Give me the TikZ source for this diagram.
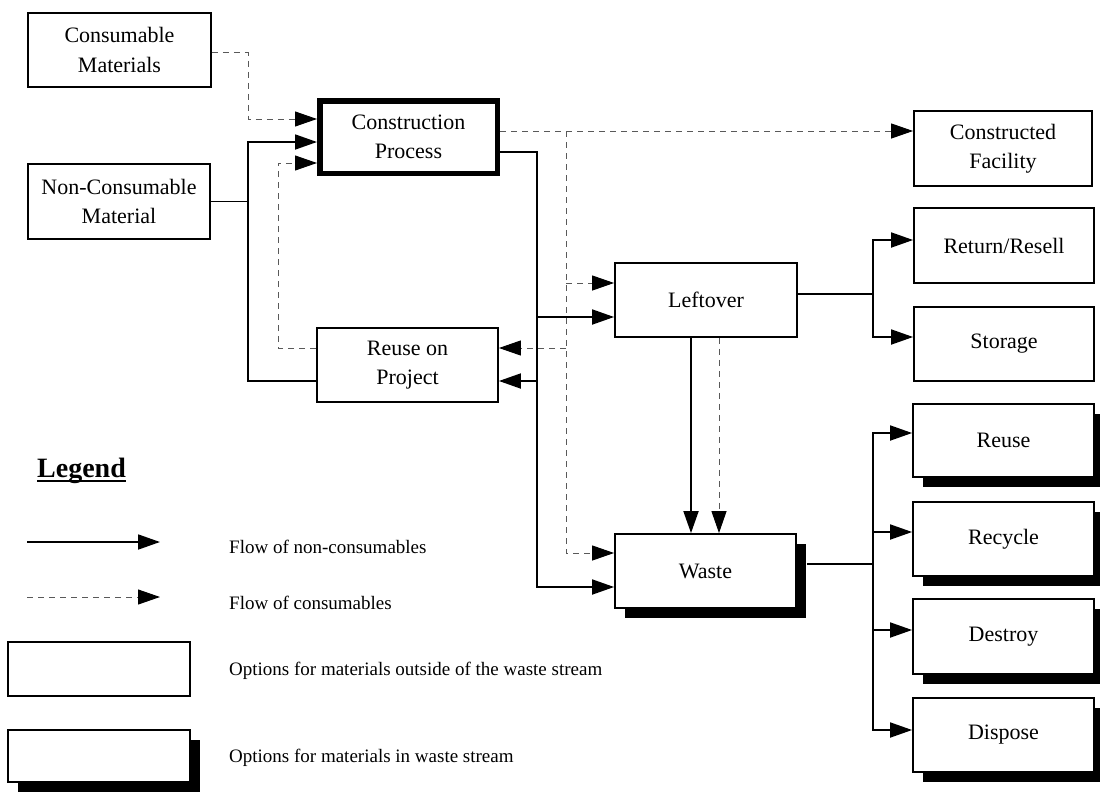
\documentclass[tikz,border=0pt]{standalone}
\usepackage{fontspec}
\setmainfont{Liberation Serif}
\usetikzlibrary{arrows.meta,shadows,calc}
\begin{document}
\begin{tikzpicture}[x=1pt,y=-1pt,
  box/.style={draw=black, line width=1.8pt, fill=white, inner sep=0pt, align=center,
              font=\fontsize{22}{29.5}\selectfont},
  thickbox/.style={box, line width=5.5pt},
  wbox/.style={box, general shadow={fill=black, shadow xshift=10pt, shadow yshift=-10pt}},
  line/.style={draw=black, line width=1.8pt},
  flow/.style={line, -{Triangle[length=22pt,width=15pt]}},
  dline/.style={draw=black!65, line width=1pt, dash pattern=on 6pt off 5pt},
  dflow/.style={dline, -{Triangle[length=22pt,width=15pt,color=black]}},
  legtext/.style={anchor=base west, inner sep=0pt, font=\fontsize{19}{22}\selectfont},
]
\useasboundingbox (0,0) rectangle (1100,792);

% ---------- boxes ----------
\node[box, minimum width=183, minimum height=74] (cons) at (119.5,50) {Consumable\\Materials};
\node[box, minimum width=182, minimum height=75] (noncons) at (119,201.5) {Non-Consumable\\Material};
\node[thickbox, minimum width=177.5, minimum height=72.5] (constr) at (408.5,137) {Construction\\Process};
\node[box, minimum width=178, minimum height=75] (facility) at (1003,148.5) {Constructed\\Facility};
\node[box, minimum width=180, minimum height=75] (ret) at (1004,245.5) {Return/Resell};
\node[box, minimum width=180, minimum height=74] (sto) at (1004,344) {Storage};
\node[box, minimum width=182, minimum height=74] (leftover) at (706,300) {Leftover};
\node[box, minimum width=181, minimum height=74] (reuseproj) at (407.5,365) {Reuse on\\Project};
\node[wbox, minimum width=181, minimum height=74] (waste) at (705.5,571) {Waste};
\node[wbox, minimum width=181, minimum height=73] (reuse) at (1003.5,440.5) {Reuse};
\node[wbox, minimum width=181, minimum height=74] (recycle) at (1003.5,539) {Recycle};
\node[wbox, minimum width=181, minimum height=75] (destroy) at (1003.5,636.5) {Destroy};
\node[wbox, minimum width=181, minimum height=74] (dispose) at (1003.5,735) {Dispose};

% ---------- ports ----------
\coordinate (ci1) at ([yshift=18pt]constr.west);
\coordinate (ci2) at ([yshift=-5pt]constr.west);
\coordinate (ci3) at ([yshift=-26pt]constr.west);
\coordinate (co1) at ([yshift=6pt]constr.east);
\coordinate (co2) at ([yshift=-15pt]constr.east);
\coordinate (fi1) at ([yshift=17.5pt]facility.west);
\coordinate (li1) at ([yshift=17pt]leftover.west);
\coordinate (li2) at ([yshift=-17pt]leftover.west);
\coordinate (rpe1) at ([yshift=17pt]reuseproj.east);
\coordinate (rpe2) at ([yshift=-16pt]reuseproj.east);
\coordinate (rpw1) at ([yshift=17pt]reuseproj.west);
\coordinate (rpw2) at ([yshift=-16pt]reuseproj.west);
\coordinate (wi1) at ([yshift=18pt]waste.west);
\coordinate (wi2) at ([yshift=-16pt]waste.west);
\coordinate (ls1) at ([xshift=-15pt]leftover.south);
\coordinate (ls2) at ([xshift=13pt]leftover.south);
\coordinate (lo) at ([yshift=6pt]leftover.east);
\coordinate (reti) at ([yshift=5.5pt]ret.west);
\coordinate (stoi) at ([yshift=7pt]sto.west);
\coordinate (wo) at ([xshift=10pt,yshift=7pt]waste.east);
\coordinate (reui) at ([yshift=7.5pt]reuse.west);
\coordinate (reci) at ([yshift=7pt]recycle.west);
\coordinate (desi) at ([yshift=6.5pt]destroy.west);
\coordinate (disi) at ([yshift=5pt]dispose.west);

% bus x positions
\coordinate (bA) at (248,0);
\coordinate (bB) at (278,0);
\coordinate (bC) at (537,0);
\coordinate (bD) at (566,0);
\coordinate (bE) at (873,0);

% ---------- connectors ----------
% into construction process
\draw[dflow] ([yshift=-3pt]cons.east) -| (bA |- ci1) -- (ci1);
\draw[line] (noncons.east) -- (noncons.east -| bA);
\draw[flow] (rpw2) -| (bA |- ci2) -- (ci2);
\draw[dflow] (rpw1) -| (bB |- ci3) -- (ci3);

% out of construction process (non-consumables)
\draw[flow] (co2) -| (bC |- wi2) -- (wi2);
\draw[flow] (bC |- li2) -- (li2);
\draw[flow] (bC |- rpe2) -- (rpe2);

% out of construction process (consumables)
\draw[dflow] (co1) -- (fi1);
\draw[dflow] (bD |- co1) |- (wi1);
\draw[dflow] (bD |- li1) -- (li1);
\draw[dflow] (bD |- rpe1) -- (rpe1);

% leftover to waste
\draw[flow] (ls1) -- (ls1 |- waste.north);
\draw[dflow] (ls2) -- (ls2 |- waste.north);

% leftover options
\draw[flow] (lo) -| (bE |- stoi) -- (stoi);
\draw[flow] (bE |- lo) |- (reti);

% waste options
\draw[flow] (wo) -| (bE |- disi) -- (disi);
\draw[flow] (bE |- wo) |- (reui);
\draw[flow] (bE |- reci) -- (reci);
\draw[flow] (bE |- desi) -- (desi);

% ---------- legend ----------
\node[anchor=base west, inner sep=0pt, font=\fontsize{28}{30}\selectfont\bfseries] (legtitle) at (37,477) {Legend};
\draw[line width=2.6pt] ([yshift=-4pt]legtitle.base west) -- ([yshift=-4pt]legtitle.base east);

\coordinate (la1) at (27,542);
\coordinate (lb1) at (160,542);
\coordinate (la2) at (27,597);
\coordinate (lb2) at (160,597);
\draw[flow] (la1) -- (lb1);
\draw[dflow] (la2) -- (lb2);
\node[box, minimum width=182, minimum height=54] (legbox1) at (99,669) {};
\node[wbox, minimum width=182, minimum height=52] (legbox2) at (99,756) {};

\node[legtext] (lt1) at (229,553) {Flow of non-consumables};
\node[legtext] (lt2) at (229,609) {Flow of consumables};
\node[legtext] (lt3) at (229,675) {Options for materials outside of the waste stream};
\node[legtext] (lt4) at (229,762) {Options for materials in waste stream};
\end{tikzpicture}
\end{document}
